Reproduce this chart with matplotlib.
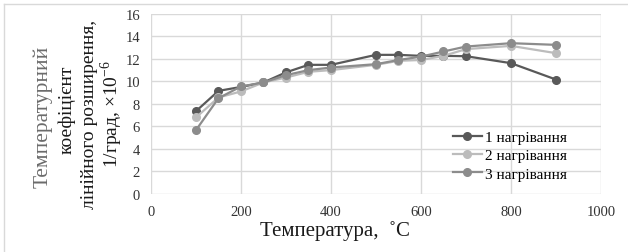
import numpy as np
import matplotlib
matplotlib.use("Agg")
import matplotlib.pyplot as plt
from matplotlib.lines import Line2D

plt.rcParams["font.family"] = ["Liberation Serif", "DejaVu Serif"]
plt.rcParams["mathtext.fontset"] = "custom"
plt.rcParams["mathtext.rm"] = "Liberation Serif"

temps = [100, 150, 200, 250, 300, 350, 400, 500, 550, 600, 650, 700, 800, 900]
heat_1 = [7.34, 9.15, 9.5, 9.9, 10.8, 11.47, 11.47, 12.36, 12.36, 12.27, 12.27, 12.24, 11.62, 10.16]
heat_2 = [6.78, 8.56, 9.1, 9.9, 10.34, 10.85, 11.0, 11.47, 11.83, 11.9, 12.27, 12.87, 13.16, 12.51]
heat_3 = [5.65, 8.5, 9.54, 9.9, 10.55, 11.0, 11.23, 11.53, 11.9, 12.2, 12.66, 13.1, 13.4, 13.25]
labels = ["1 нагрівання", "2 нагрівання", "3 нагрівання"]
colors = ["#595959", "#bcbcbc", "#8c8c8c"]

fig = plt.figure(figsize=(6.28, 2.53), dpi=100)
ax = fig.add_axes([0.2404, 0.231, 0.7166, 0.7097])

for ys, lab, c in zip([heat_1, heat_2, heat_3], labels, colors):
    ax.plot(temps, ys, color=c, lw=1.6, marker="o", ms=5.5, label=lab)

ax.set_xlim(0, 1000)
ax.set_ylim(0, 16)
ax.set_xticks(np.arange(0, 1001, 200))
ax.set_yticks(np.arange(0, 17, 2))
ax.tick_params(length=0, labelsize=10.5, pad=8, labelcolor="#333333")
ax.grid(True, color="#d9d9d9", lw=1)
ax.set_axisbelow(True)
for s in ax.spines.values():
    s.set_visible(False)

ax.legend(loc="lower right", bbox_to_anchor=(0.955, -0.005), frameon=False,
          fontsize=11, handlelength=1.9, handletextpad=0.2, labelspacing=0.3)

# x label (sits left of the axes centre in the original)
fig.text(335 / 628, 1 - 231 / 253, "Температура,  ˚С", fontsize=15,
         color="#1a1a1a", ha="center", va="center")

# y label, four lines
fig.text(43 / 628, 1 - 117 / 253, "Температурний", rotation=90, fontsize=15.5,
         color="#6b6b6b", ha="center", va="center")
fig.text(67 / 628, 1 - 110 / 253, "коефіцієнт", rotation=90, fontsize=14,
         color="#1a1a1a", ha="center", va="center")
fig.text(90 / 628, 1 - 114 / 253, "лінійного розширення,", rotation=90, fontsize=14,
         color="#1a1a1a", ha="center", va="center")
fig.text(112 / 628, 1 - 114 / 253, "1/град, ×10$^{-6}$", rotation=90, fontsize=14,
         color="#1a1a1a", ha="center", va="center")

# chart area border
fig.add_artist(Line2D([4 / 628, 1], [1 - 5 / 253, 1 - 5 / 253], color="#d9d9d9", lw=1))
fig.add_artist(Line2D([4 / 628, 4 / 628], [0, 1 - 5 / 253], color="#d9d9d9", lw=1))

fig.savefig("out.png", dpi=100)
